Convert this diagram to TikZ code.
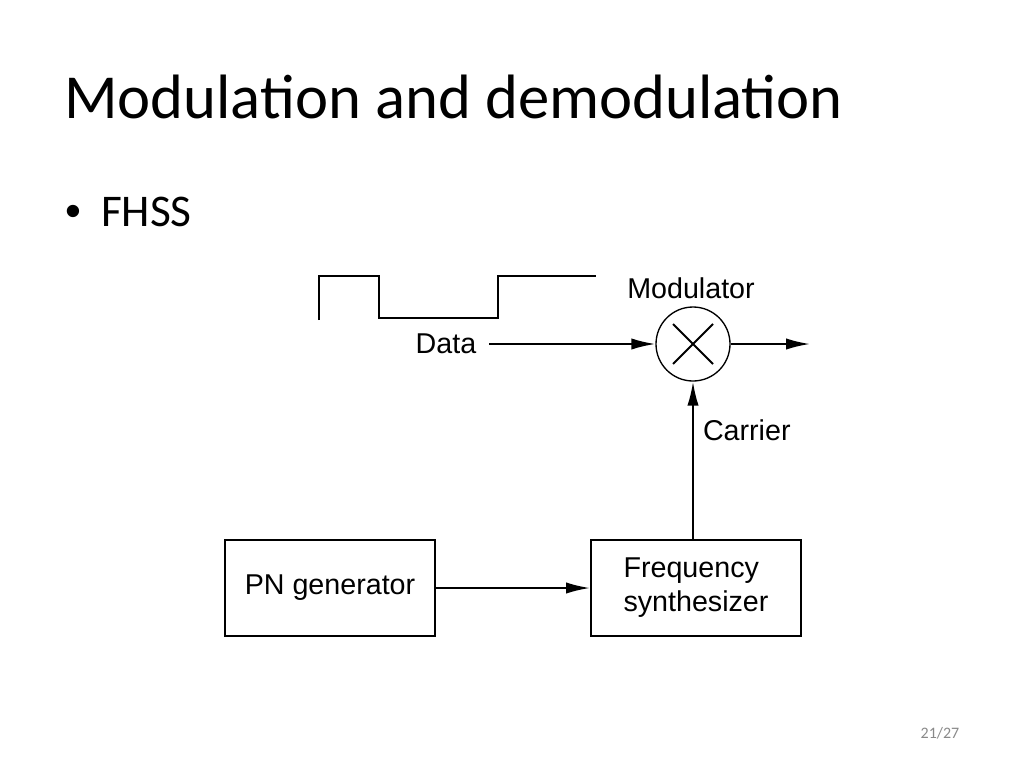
\documentclass[tikz,border=0pt]{standalone}
\usepackage{fontspec}
\setmainfont{Carlito}
\newfontfamily\diagfont{Liberation Sans}
\usetikzlibrary{arrows.meta}
\definecolor{pagegray}{HTML}{898989}
\begin{document}
\begin{tikzpicture}[x=0.75pt,y=-0.75pt,line width=1.5pt,
  box/.style={draw,minimum width=157.5pt,minimum height=72pt,inner sep=0pt,align=left,
    font=\diagfont\fontsize{21.5}{25.5}\selectfont},
  lbl/.style={inner sep=0pt,font=\diagfont\fontsize{21.5}{25}\selectfont},
  arr/.style={-{Latex[length=18pt,width=8.5pt]}}]

\useasboundingbox (0,0) rectangle (1024,768);

% Titulo
\node[anchor=base west,inner sep=0pt,font=\fontsize{47}{56}\selectfont] (title) at (63,118) {Modulation and demodulation};

% Punto
\node[anchor=base west,inner sep=0pt,font=\diagfont\fontsize{34}{40}\selectfont] (bullet) at (64,226) {\textbullet};
\node[anchor=base west,inner sep=0pt,font=\fontsize{34}{40}\selectfont] (fhss) at (100,226) {FHSS};

% Onda de datos
\draw (319,320) -- (319,276) -- (379,276) -- (379,318) -- (498,318) -- (498,276) -- (596,276);

% Modulador
\node[draw,circle,minimum size=55.5pt,inner sep=0pt,line width=1pt] (mod) at (693,344) {};
\draw ([shift={(-20,-20)}]mod.center) -- ([shift={(20,20)}]mod.center);
\draw ([shift={(-20,20)}]mod.center) -- ([shift={(20,-20)}]mod.center);
\node[lbl] (modlbl) at (691,288) {Modulator};

% Datos
\node[lbl] (data) at (446,344) {Data};
\draw[arr] ([xshift=9pt]data.east) -- (mod.west);

% Salida
\coordinate (out) at (810,344);
\draw[arr] (mod.east) -- (out);

% Bloques
\node[box] (pn) at (330,588) {PN generator};
\node[box] (synth) at (696,588) {Frequency\\synthesizer};
\draw[arr] (pn) -- (synth);
\draw[arr] (synth.north -| mod) -- (mod.south);
\node[lbl,anchor=west] (carrier) at (702,430) {Carrier};

% Pagina
\node[font=\fontsize{12}{14}\selectfont,text=pagegray] (page) at (940,733) {21/27};

\end{tikzpicture}
\end{document}
